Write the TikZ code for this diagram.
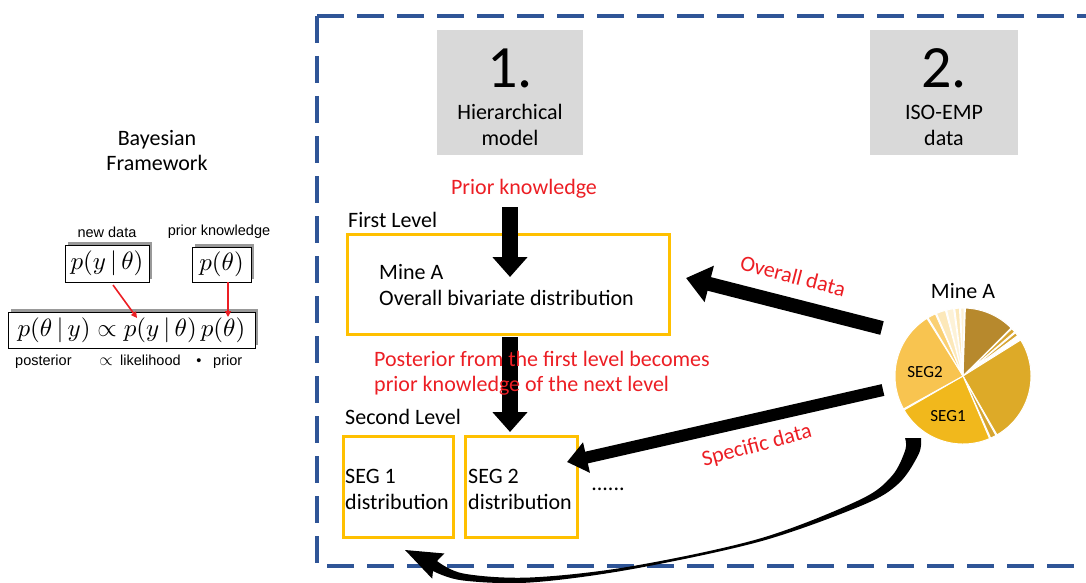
\documentclass[tikz,border=0pt]{standalone}
\usepackage{graphicx}
\usepackage{fontspec}
\setmainfont{Carlito}
\newfontfamily\arialf{Liberation Sans}
\usetikzlibrary{arrows.meta}
\definecolor{myred}{RGB}{236,30,36}
\definecolor{myyellow}{RGB}{255,192,0}
\definecolor{mygray}{RGB}{217,217,217}
\definecolor{dashblue}{RGB}{47,85,151}
\definecolor{pdark}{RGB}{183,137,45}
\definecolor{pmid}{RGB}{214,164,48}
\definecolor{pbig}{RGB}{221,170,40}
\definecolor{pseg1}{RGB}{241,184,28}
\definecolor{pseg2}{RGB}{248,196,80}
\definecolor{plight}{RGB}{250,208,115}
\definecolor{pcream}{RGB}{252,232,185}
\definecolor{pcreamb}{RGB}{253,242,215}
\tikzset{
  txt/.style={font=\fontsize{22}{26}\selectfont, inner sep=0pt},
  redtxt/.style={txt, text=myred},
  smalltxt/.style={font=\arialf\fontsize{14.5}{17}\selectfont, inner sep=0pt},
  ybox/.style={draw=myyellow, line width=3pt, inner sep=0pt},
  gbox/.style={fill=mygray, inner sep=0pt},
  eqbox/.style={draw=black, fill=white, line width=0.8pt, inner sep=0pt},
  eqshadow/.style={fill=black!40, inner sep=0pt},
  vertarrow/.style={black, line width=16pt, -{Triangle[width=34pt,length=20pt]}},
  dataarrow/.style={black, line width=14pt, -{Triangle[width=36pt,length=24pt]}},
  specarrow/.style={black, line width=12pt, -{Triangle[width=30pt,length=20pt]}},
  redarrow/.style={myred, line width=1.6pt, -{Triangle[width=6pt,length=6pt]}},
  border/.style={dashblue, line width=3.2pt, dash pattern=on 27pt off 13pt},
}
\newcommand\eqs[1]{\scalebox{2.5}{$#1$}}
\begin{document}
\begin{tikzpicture}[x=1pt,y=-1pt]
\useasboundingbox (0,0) rectangle (1086,583);
\clip (0,0) rectangle (1086,583);

% dashed frame
\draw[border] (317,16) -- (1110,16);
\draw[border] (317,16) -- (317,566) -- (1110,566);

% ---------- left: Bayesian framework ----------
\node[txt, anchor=base] (bay1) at (157,145) {Bayesian};
\node[txt, anchor=base] (bay2) at (157,170) {Framework};

\node[smalltxt] (newdata) at (107,232) {new data};
\node[smalltxt] (priork) at (219,232) {prior knowledge};

\node[eqshadow, minimum width=84pt, minimum height=37pt] at (110,260.5) {};
\node[eqbox, minimum width=84pt, minimum height=37pt] (b1) at (107,263.5) {\eqs{p(y\,|\,\theta)}};
\node[eqshadow, minimum width=59pt, minimum height=35pt] at (224.5,261.5) {};
\node[eqbox, minimum width=59pt, minimum height=35pt] (b2) at (221.5,264.5) {\eqs{p(\theta)}};
\node[eqshadow, minimum width=247pt, minimum height=36pt] at (134.5,327) {};
\node[eqbox, minimum width=247pt, minimum height=36pt] (b3) at (131.5,330) {\eqs{p(\theta\,|\,y)\propto p(y\,|\,\theta)\,p(\theta)}};

\coordinate (r1s) at (113,285);
\coordinate (r1e) at (137,318);
\coordinate (r2s) at (228,282);
\coordinate (r2e) at (228,317);
\draw[redarrow] (r1s) -- (r1e);
\draw[redarrow] (r2s) -- (r2e);

\node[smalltxt, anchor=base west] (post) at (15,365) {posterior};
\node[smalltxt, anchor=base] (prop) at (106,365) {\scalebox{1.2}{$\propto$}};
\node[smalltxt, anchor=base west] (lik) at (120,365) {likelihood};
\node[smalltxt, anchor=base] (dot) at (199,365) {•};
\node[smalltxt, anchor=base west] (pri) at (213,365) {prior};

% ---------- gray header boxes ----------
\node[gbox, minimum width=146pt, minimum height=125pt] (g1) at (510,92.5) {};
\node[gbox, minimum width=148pt, minimum height=125pt] (g2) at (944,92.5) {};
\node[txt, font=\fontsize{60}{70}\selectfont, anchor=base] (n1) at (510,88) {1.};
\node[txt, anchor=base] (h1) at (510,120) {Hierarchical};
\node[txt, anchor=base] (h2) at (510,146) {model};
\node[txt, font=\fontsize{60}{70}\selectfont, anchor=base] (n2) at (944,88) {2.};
\node[txt, anchor=base] (i1) at (944,120) {ISO-EMP};
\node[txt, anchor=base] (i2) at (944,146) {data};

% ---------- hierarchical model ----------
\node[redtxt, anchor=base] (prior) at (524,194) {Prior knowledge};
\node[txt, anchor=base west] (first) at (348,227) {First Level};
\node[ybox, minimum width=322pt, minimum height=100pt] (L1) at (508,284) {};
\coordinate (a1s) at (510,207);
\coordinate (a1e) at (510,277);
\draw[vertarrow] (a1s) -- (a1e);
\node[txt, anchor=base west] (mine) at (379,279) {Mine A};
\node[txt, anchor=base west] (overall) at (379,305) {Overall bivariate distribution};

\coordinate (a2s) at (510,337);
\coordinate (a2e) at (510,432);
\draw[vertarrow] (a2s) -- (a2e);
\node[redtxt, anchor=base west] (posttxt1) at (374,366) {Posterior from the first level becomes};
\node[redtxt, anchor=base west] (posttxt2) at (374,391) {prior knowledge of the next level};

\node[txt, anchor=base west] (second) at (345,424) {Second Level};
\node[ybox, minimum width=110pt, minimum height=101pt] (S1) at (398,486.5) {};
\node[ybox, minimum width=112pt, minimum height=101pt] (S2) at (521,486.5) {};
\node[txt, anchor=base west] (s1a) at (345,483) {SEG 1};
\node[txt, anchor=base west] (s1b) at (345,509) {distribution};
\node[txt, anchor=base west] (s2a) at (468,483) {SEG 2};
\node[txt, anchor=base west] (s2b) at (468,509) {distribution};
\node[txt, anchor=base] (dots) at (608,490) {......};

% ---------- pie chart ----------
\node[circle, minimum size=136pt, inner sep=0pt] (pie) at (963,376) {};
\node[txt, anchor=base] (minepie) at (963,298) {Mine A};
\begin{scope}[shift={(pie.center)}, yscale=-1]
  \foreach \a/\b/\c in {45/88/pdark, 40.5/44.2/pmid, 36.5/39.5/pmid,
      -60/32/pbig, -66/-61/pmid, 210/293/pseg1, 122/209/pseg2,
      114/121/plight, 105/113/pcream, 98/104/pcreamb, 93/97/pcream, 89/92/pcreamb}
    \fill[\c, draw=white, line width=1pt] (0,0) -- (\a:68) arc[start angle=\a, end angle=\b, radius=68] -- cycle;
\end{scope}
\node[txt, font=\fontsize{17}{20}\selectfont] (seg2) at (925,372) {SEG2};
\node[txt, font=\fontsize{17}{20}\selectfont] (seg1) at (948,416) {SEG1};

% ---------- data arrows ----------
\coordinate (o1) at (882,328);
\coordinate (o2) at (686,278);
\draw[dataarrow] (o1) -- (o2);
\node[redtxt, rotate=-14.5] (ovl) at (793,276) {Overall data};

\coordinate (sp1) at (883,390);
\coordinate (sp2) at (567,462);
\draw[specarrow] (sp1) -- (sp2);
\node[redtxt, rotate=15] (spl) at (757,446) {Specific data};

% curved tapered arrow from pie to SEG 1
\coordinate (ctip) at (405,550);
\fill[black]
  plot[smooth, tension=0.55] coordinates {(437,561) (463.7,573.6) (529.9,577.5) (629.6,566.6)
     (759.6,538.6) (858.7,500.3) (891.5,476.4) (905.3,450) (905,438)}
  -- plot[smooth, tension=0.55] coordinates {(921,438) (918.7,454) (898.5,483.6) (861.3,505.7)
     (760.4,541.4) (630.4,569.4) (530.1,582.5) (462.3,580.4) (433,571)}
  -- (432.2,578.7) -- (ctip) -- (444.4,553.5) -- cycle;
\end{tikzpicture}
\end{document}
